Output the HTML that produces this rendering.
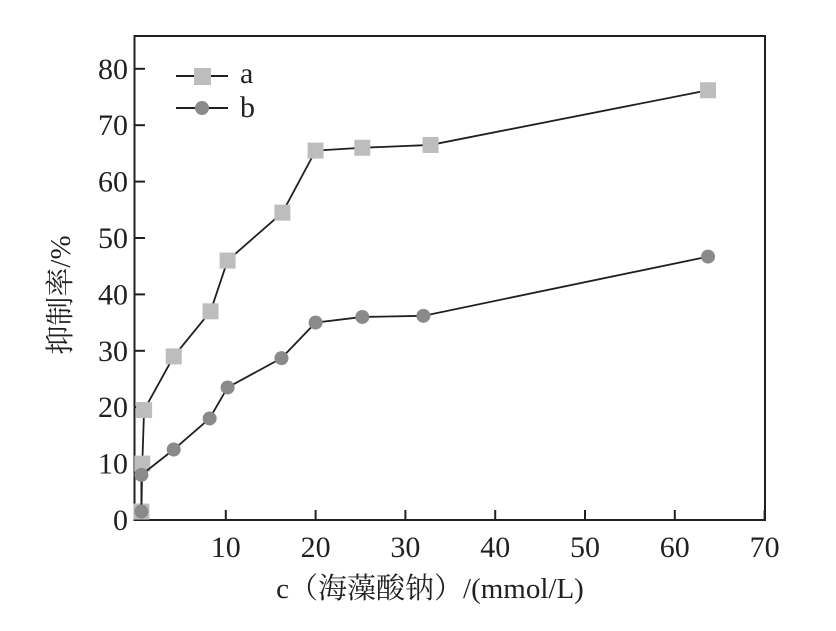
<!DOCTYPE html>
<html><head><meta charset="utf-8"><style>
body{margin:0;background:#fff}
svg text{font-family:"Liberation Serif","Noto Serif CJK SC",serif;fill:#231f20}
</style></head><body>
<svg width="836" height="626">
<g id="axes"></g><g id="marks"></g>
</svg>
<script>
const xTicks=[10,20,30,40,50,60,70];
const yTicks=[0,10,20,30,40,50,60,70,80];
const xA=[0.6,0.7,0.9,4.2,8.3,10.2,16.3,20,25.2,32.8,63.7];
const yA=[1.5,10,19.5,29,37,46,54.5,65.5,66,66.5,76.2];
const xB=[0.6,0.6,4.2,8.2,10.2,16.2,20,25.2,32,63.7];
const yB=[1.5,8,12.5,18,23.5,28.7,35,36,36.2,46.7];
const X=v=>136+v*8.98, Y=v=>520-v*5.64;
const NS="http://www.w3.org/2000/svg";
const ax=document.getElementById('axes'), mk=document.getElementById('marks');
function el(t,a,p){const e=document.createElementNS(NS,t);for(const k in a)e.setAttribute(k,a[k]);p.appendChild(e);return e;}
const fr=el('rect',{x:134.5,y:36,width:630.5,height:484,fill:'none',stroke:'#231f20','stroke-width':2},ax);


xTicks.forEach(v=>{
 const l=el('line',{x1:X(v),x2:X(v),y1:520,y2:510,stroke:'#231f20','stroke-width':2},ax);
 
 
 const t=el('text',{x:X(v),y:557,'text-anchor':'middle','font-size':30},ax);t.textContent=v;
 
 
});
yTicks.forEach(v=>{
 if(v>0){const l=el('line',{x1:134.5,x2:145,y1:Y(v),y2:Y(v),stroke:'#231f20','stroke-width':2},ax);
 
 }
 const t=el('text',{x:128,y:Y(v)+10,'text-anchor':'end','font-size':30},ax);t.textContent=v;
 
 
});
const xt=el('text',{x:430,y:598,'text-anchor':'middle','font-size':29},ax);xt.textContent='c（海藻酸钠）/(mmol/L)';


const yt=el('text',{x:0,y:0,'text-anchor':'middle','font-size':29,transform:'translate(70,295) rotate(-90)'},ax);yt.textContent='抑制率/%';


function series(xs,ys,kind,name){
 const pl=el('polyline',{points:xs.map((x,i)=>X(x)+','+Y(ys[i])).join(' '),fill:'none',stroke:'#231f20','stroke-width':1.8},mk);
 
 
 xs.forEach((x,i)=>{
  let m;
  if(kind==='sq')m=el('rect',{x:X(x)-8,y:Y(ys[i])-8,width:16,height:16,fill:'#bdbdbd'},mk);
  else m=el('circle',{cx:X(x),cy:Y(ys[i]),r:7,fill:'#8a8a8a'},mk);
  
  
 });
}
series(xA,yA,'sq','a');series(xB,yB,'ci','b');
const lg=el('g',{},ax);


el('line',{x1:176,x2:228,y1:76,y2:76,stroke:'#231f20','stroke-width':2},lg);
el('rect',{x:194,y:68,width:17,height:17,fill:'#bdbdbd'},lg);
const ta=el('text',{x:240,y:83,'font-size':30},lg);ta.textContent='a';
el('line',{x1:176,x2:228,y1:108,y2:108,stroke:'#231f20','stroke-width':2},lg);
el('circle',{cx:202,cy:108,r:7,fill:'#8a8a8a'},lg);
const tb=el('text',{x:240,y:117,'font-size':30},lg);tb.textContent='b';
</script>
</body></html>
